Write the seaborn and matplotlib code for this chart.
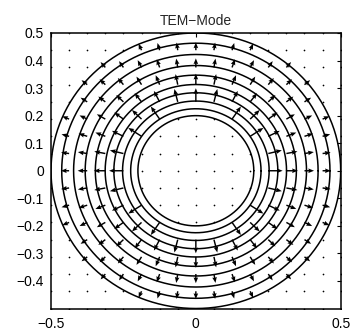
import numpy as np
import pandas as pd
import matplotlib
matplotlib.use("Agg")
import matplotlib.pyplot as plt
import seaborn as sns

# ---- data ----
title = "TEM\u2212Mode"
grid_vals = [-0.5, -0.4375, -0.375, -0.3125, -0.25, -0.1875, -0.125, -0.0625, 0.0,
             0.0625, 0.125, 0.1875, 0.25, 0.3125, 0.375, 0.4375, 0.5]
contour_radii = [0.2, 0.225, 0.253, 0.283, 0.313, 0.347, 0.382, 0.422, 0.463, 0.5]
inner_radius = 0.2
outer_radius = 0.5
arrow_len_at_inner = 0.062   # arrow length (data units) next to the inner conductor
xticks = [-0.5, 0, 0.5]
yticks = [-0.4, -0.3, -0.2, -0.1, 0, 0.1, 0.2, 0.3, 0.4, 0.5]

sns.set_style("white")
plt.rcParams["font.family"] = ["Liberation Sans", "DejaVu Sans"]
plt.rcParams["axes.unicode_minus"] = True

fig = plt.figure(figsize=(3.51, 3.30), dpi=100)
ax = fig.add_axes([51 / 351, 1 - 308.5 / 330, (340.7 - 51) / 351, (308.5 - 33) / 330])

# contour circles
theta = np.linspace(0, 2 * np.pi, 721)
rows = []
for i, r in enumerate(contour_radii):
    for t in theta:
        rows.append({"x": r * np.cos(t), "y": r * np.sin(t), "ring": i})
circ = pd.DataFrame(rows)
sns.lineplot(data=circ, x="x", y="y", units="ring", estimator=None, sort=False,
             color="black", linewidth=1.1, ax=ax, legend=False)

# vector field on the grid
gx, gy = np.meshgrid(np.array(grid_vals), np.array(grid_vals))
gr = np.hypot(gx, gy)
safe_r = np.where(gr == 0, 1, gr)
inside = (gr >= inner_radius - 1e-9) & (gr <= outer_radius + 1e-9)
mag = np.where(inside, arrow_len_at_inner * inner_radius / safe_r, 0.0)
u = np.where(inside, mag * gx / safe_r, 0.0)
v = np.where(inside, mag * gy / safe_r, 0.0)

ax.quiver(gx[inside], gy[inside], u[inside], v[inside], angles="xy",
          scale_units="xy", scale=1, color="black", width=0.005,
          headwidth=3.2, headlength=4, headaxislength=3.6, zorder=3)

dots = pd.DataFrame({"x": gx[~inside].ravel(), "y": gy[~inside].ravel()})
sns.scatterplot(data=dots, x="x", y="y", s=1.5, color="black", linewidth=0,
                ax=ax, legend=False)

ax.set_xlim(-0.5, 0.5)
ax.set_ylim(-0.5, 0.5)
ax.set_xticks(xticks)
ax.set_xticklabels(["\u22120.5", "0", "0.5"])
ax.set_yticks(yticks)
ax.set_yticklabels([("\u2212" + f"{abs(t):.1f}") if t < 0 else ("0" if t == 0 else f"{t:.1f}") for t in yticks])
ax.set_xlabel("")
ax.set_ylabel("")
ax.tick_params(direction="in", length=3, width=0.8, labelsize=10, top=True, right=True,
               colors="black")
ax.tick_params(axis="y", pad=5)
ax.tick_params(axis="x", pad=6)
for s in ax.spines.values():
    s.set_visible(True)
    s.set_color("black")
    s.set_linewidth(1.1)
ax.set_title(title, fontsize=10, pad=6)

fig.savefig("out.png", dpi=100)
